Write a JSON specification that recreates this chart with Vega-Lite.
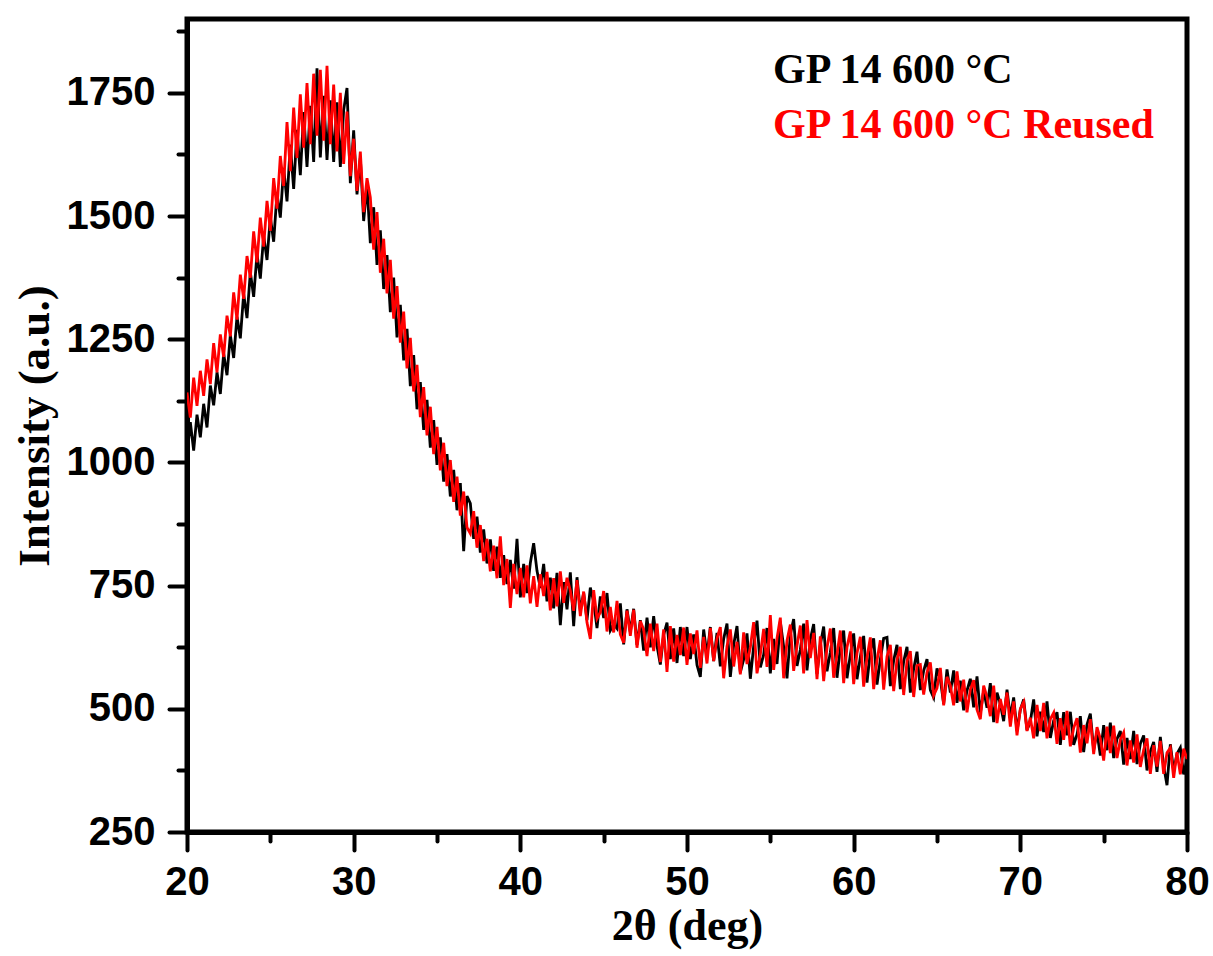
{
"$schema": "https://vega.github.io/schema/vega-lite/v6.json",
"width": 1000, "height": 813,
"autosize": {"type": "none"},
"padding": {"left": 187, "top": 19, "right": 26, "bottom": 124},
"background": "white",
"config": {"view": {"stroke": "black", "strokeWidth": 5}, "axis": {"grid": false}},
"data": {"values": [
{"x":20,"a":1014,"b":1142},{"x":20.2,"a":1082,"b":1091},{"x":20.4,"a":1024,"b":1172},{"x":20.6,"a":1097,"b":1115},{"x":20.8,"a":1051,"b":1186},
{"x":21,"a":1119,"b":1135},{"x":21.2,"a":1071,"b":1209},{"x":21.4,"a":1156,"b":1159},{"x":21.6,"a":1116,"b":1242},{"x":21.8,"a":1183,"b":1183},
{"x":22,"a":1139,"b":1260},{"x":22.2,"a":1221,"b":1214},{"x":22.4,"a":1177,"b":1298},{"x":22.6,"a":1259,"b":1256},{"x":22.8,"a":1212,"b":1345},
{"x":23,"a":1296,"b":1290},{"x":23.2,"a":1252,"b":1381},{"x":23.4,"a":1342,"b":1332},{"x":23.6,"a":1293,"b":1419},{"x":23.8,"a":1386,"b":1375},
{"x":24,"a":1336,"b":1469},{"x":24.2,"a":1423,"b":1406},{"x":24.4,"a":1373,"b":1497},{"x":24.6,"a":1460,"b":1438},{"x":24.8,"a":1411,"b":1531},
{"x":25,"a":1498,"b":1470},{"x":25.2,"a":1448,"b":1577},{"x":25.4,"a":1546,"b":1515},{"x":25.6,"a":1497,"b":1622},{"x":25.8,"a":1598,"b":1561},
{"x":26,"a":1530,"b":1691},{"x":26.2,"a":1645,"b":1591},{"x":26.4,"a":1555,"b":1720},{"x":26.6,"a":1675,"b":1618},{"x":26.8,"a":1583,"b":1747},
{"x":27,"a":1711,"b":1639},{"x":27.2,"a":1600,"b":1770},{"x":27.4,"a":1724,"b":1646},{"x":27.6,"a":1610,"b":1789},{"x":27.8,"a":1800,"b":1663},
{"x":28,"a":1619,"b":1797},{"x":28.2,"a":1744,"b":1653},{"x":28.4,"a":1614,"b":1805},{"x":28.6,"a":1735,"b":1646},{"x":28.8,"a":1610,"b":1767},
{"x":29,"a":1731,"b":1631},{"x":29.2,"a":1600,"b":1750},{"x":29.4,"a":1715,"b":1606},{"x":29.6,"a":1760,"b":1712},{"x":29.8,"a":1567,"b":1581},
{"x":30,"a":1674,"b":1657},{"x":30.2,"a":1544,"b":1551},{"x":30.4,"a":1618,"b":1631},{"x":30.6,"a":1490,"b":1508},{"x":30.8,"a":1565,"b":1577},
{"x":31,"a":1445,"b":1538},{"x":31.2,"a":1518,"b":1432},{"x":31.4,"a":1401,"b":1508},{"x":31.6,"a":1471,"b":1385},{"x":31.8,"a":1352,"b":1454},
{"x":32,"a":1421,"b":1343},{"x":32.2,"a":1305,"b":1411},{"x":32.4,"a":1375,"b":1292},{"x":32.6,"a":1254,"b":1358},{"x":32.8,"a":1320,"b":1243},
{"x":33,"a":1207,"b":1306},{"x":33.2,"a":1271,"b":1191},{"x":33.4,"a":1155,"b":1253},{"x":33.6,"a":1218,"b":1144},{"x":33.8,"a":1108,"b":1198},
{"x":34,"a":1163,"b":1092},{"x":34.2,"a":1066,"b":1153},{"x":34.4,"a":1127,"b":1055},{"x":34.6,"a":1030,"b":1113},{"x":34.8,"a":1086,"b":1017},
{"x":35,"a":995,"b":1072},{"x":35.2,"a":1051,"b":984},{"x":35.4,"a":961,"b":1040},{"x":35.6,"a":1017,"b":952},{"x":35.8,"a":931,"b":1005},
{"x":36,"a":985,"b":920},{"x":36.2,"a":903,"b":971},{"x":36.4,"a":958,"b":892},{"x":36.6,"a":820,"b":941},{"x":36.8,"a":932,"b":868},
{"x":37,"a":917,"b":856},{"x":37.2,"a":845,"b":901},{"x":37.4,"a":890,"b":827},{"x":37.6,"a":817,"b":873},{"x":37.8,"a":864,"b":800},
{"x":38,"a":795,"b":845},{"x":38.2,"a":844,"b":779},{"x":38.4,"a":780,"b":831},{"x":38.6,"a":829,"b":765},{"x":38.8,"a":766,"b":850},
{"x":39,"a":812,"b":751},{"x":39.2,"a":753,"b":804},{"x":39.4,"a":802,"b":705},{"x":39.6,"a":744,"b":794},{"x":39.8,"a":845,"b":733},
{"x":40,"a":726,"b":786},{"x":40.2,"a":794,"b":726},{"x":40.4,"a":735,"b":791},{"x":40.6,"a":796,"b":714},{"x":40.8,"a":836,"b":769},
{"x":41,"a":780,"b":707},{"x":41.2,"a":745,"b":773},{"x":41.4,"a":794,"b":729},{"x":41.6,"a":718,"b":778},{"x":41.8,"a":766,"b":700},
{"x":42,"a":704,"b":765},{"x":42.2,"a":776,"b":708},{"x":42.4,"a":670,"b":779},{"x":42.6,"a":757,"b":715},{"x":42.8,"a":702,"b":766},
{"x":43,"a":777,"b":740},{"x":43.2,"a":668,"b":699},{"x":43.4,"a":767,"b":761},{"x":43.6,"a":699,"b":688},{"x":43.8,"a":735,"b":738},
{"x":44,"a":680,"b":675},{"x":44.2,"a":746,"b":642},{"x":44.4,"a":717,"b":741},{"x":44.6,"a":664,"b":683},{"x":44.8,"a":728,"b":696},
{"x":45,"a":684,"b":739},{"x":45.2,"a":735,"b":657},{"x":45.4,"a":659,"b":707},{"x":45.6,"a":672,"b":655},{"x":45.8,"a":663,"b":719},
{"x":46,"a":714,"b":651},{"x":46.2,"a":631,"b":634},{"x":46.4,"a":702,"b":699},{"x":46.6,"a":656,"b":648},{"x":46.8,"a":703,"b":701},
{"x":47,"a":630,"b":624},{"x":47.2,"a":680,"b":678},{"x":47.4,"a":618,"b":661},{"x":47.6,"a":685,"b":607},{"x":47.8,"a":625,"b":673},
{"x":48,"a":688,"b":617},{"x":48.2,"a":628,"b":673},{"x":48.4,"a":590,"b":595},{"x":48.6,"a":650,"b":661},{"x":48.8,"a":675,"b":575},
{"x":49,"a":601,"b":668},{"x":49.2,"a":663,"b":596},{"x":49.4,"a":593,"b":650},{"x":49.6,"a":666,"b":609},{"x":49.8,"a":607,"b":665},
{"x":50,"a":666,"b":589},{"x":50.2,"a":601,"b":653},{"x":50.4,"a":651,"b":611},{"x":50.6,"a":589,"b":659},{"x":50.8,"a":565,"b":583},
{"x":51,"a":661,"b":646},{"x":51.2,"a":608,"b":592},{"x":51.4,"a":666,"b":664},{"x":51.6,"a":597,"b":597},{"x":51.8,"a":654,"b":643},
{"x":52,"a":586,"b":666},{"x":52.2,"a":642,"b":562},{"x":52.4,"a":673,"b":627},{"x":52.6,"a":565,"b":661},{"x":52.8,"a":630,"b":586},
{"x":53,"a":668,"b":636},{"x":53.2,"a":574,"b":570},{"x":53.4,"a":600,"b":655},{"x":53.6,"a":653,"b":591},{"x":53.8,"a":561,"b":625},
{"x":54,"a":627,"b":676},{"x":54.2,"a":679,"b":572},{"x":54.4,"a":584,"b":610},{"x":54.6,"a":610,"b":662},{"x":54.8,"a":664,"b":585},
{"x":55,"a":572,"b":690},{"x":55.2,"a":642,"b":579},{"x":55.4,"a":591,"b":643},{"x":55.6,"a":677,"b":685},{"x":55.8,"a":626,"b":562},
{"x":56,"a":562,"b":638},{"x":56.2,"a":651,"b":671},{"x":56.4,"a":682,"b":577},{"x":56.6,"a":587,"b":628},{"x":56.8,"a":620,"b":669},
{"x":57,"a":673,"b":572},{"x":57.2,"a":578,"b":680},{"x":57.4,"a":641,"b":603},{"x":57.6,"a":672,"b":654},{"x":57.8,"a":571,"b":560},
{"x":58,"a":630,"b":647},{"x":58.2,"a":667,"b":556},{"x":58.4,"a":576,"b":624},{"x":58.6,"a":615,"b":663},{"x":58.8,"a":664,"b":563},
{"x":59,"a":563,"b":610},{"x":59.2,"a":624,"b":659},{"x":59.4,"a":659,"b":552},{"x":59.6,"a":562,"b":625},{"x":59.8,"a":610,"b":657},
{"x":60,"a":653,"b":550},{"x":60.2,"a":560,"b":613},{"x":60.4,"a":605,"b":646},{"x":60.6,"a":648,"b":545},{"x":60.8,"a":553,"b":604},
{"x":61,"a":616,"b":645},{"x":61.2,"a":643,"b":540},{"x":61.4,"a":549,"b":598},{"x":61.6,"a":600,"b":639},{"x":61.8,"a":643,"b":539},
{"x":62,"a":645,"b":606},{"x":62.2,"a":546,"b":630},{"x":62.4,"a":598,"b":536},{"x":62.6,"a":630,"b":600},{"x":62.8,"a":540,"b":626},
{"x":63,"a":596,"b":528},{"x":63.2,"a":626,"b":597},{"x":63.4,"a":533,"b":617},{"x":63.6,"a":581,"b":524},{"x":63.8,"a":616,"b":588},
{"x":64,"a":538,"b":590},{"x":64.2,"a":577,"b":529},{"x":64.4,"a":601,"b":574},{"x":64.6,"a":538,"b":594},{"x":64.8,"a":523,"b":527},
{"x":65,"a":582,"b":542},{"x":65.2,"a":560,"b":583},{"x":65.4,"a":510,"b":507},{"x":65.6,"a":580,"b":565},{"x":65.8,"a":533,"b":547},
{"x":66,"a":578,"b":507},{"x":66.2,"a":512,"b":576},{"x":66.4,"a":557,"b":515},{"x":66.6,"a":497,"b":559},{"x":66.8,"a":537,"b":493},
{"x":67,"a":561,"b":539},{"x":67.2,"a":503,"b":558},{"x":67.4,"a":566,"b":498},{"x":67.6,"a":491,"b":479},{"x":67.8,"a":537,"b":547},
{"x":68,"a":502,"b":524},{"x":68.2,"a":552,"b":485},{"x":68.4,"a":473,"b":547},{"x":68.6,"a":533,"b":471},{"x":68.8,"a":510,"b":520},
{"x":69,"a":475,"b":488},{"x":69.2,"a":539,"b":533},{"x":69.4,"a":483,"b":464},{"x":69.6,"a":523,"b":515},{"x":69.8,"a":455,"b":446},
{"x":70,"a":498,"b":500},{"x":70.2,"a":519,"b":514},{"x":70.4,"a":457,"b":455},{"x":70.6,"a":474,"b":482},{"x":70.8,"a":519,"b":440},
{"x":71,"a":444,"b":508},{"x":71.2,"a":494,"b":455},{"x":71.4,"a":453,"b":512},{"x":71.6,"a":515,"b":440},{"x":71.8,"a":441,"b":479},
{"x":72,"a":476,"b":492},{"x":72.2,"a":493,"b":429},{"x":72.4,"a":427,"b":481},{"x":72.6,"a":493,"b":437},{"x":72.8,"a":446,"b":496},
{"x":73,"a":494,"b":424},{"x":73.2,"a":427,"b":461},{"x":73.4,"a":448,"b":481},{"x":73.6,"a":485,"b":411},{"x":73.8,"a":412,"b":467},
{"x":74,"a":468,"b":430},{"x":74.2,"a":490,"b":479},{"x":74.4,"a":417,"b":408},{"x":74.6,"a":453,"b":463},{"x":74.8,"a":405,"b":439},
{"x":75,"a":467,"b":395},{"x":75.2,"a":416,"b":464},{"x":75.4,"a":472,"b":410},{"x":75.6,"a":400,"b":466},{"x":75.8,"a":439,"b":400},
{"x":76,"a":455,"b":437},{"x":76.2,"a":387,"b":452},{"x":76.4,"a":441,"b":385},{"x":76.6,"a":398,"b":436},{"x":76.8,"a":455,"b":391},
{"x":77,"a":388,"b":448},{"x":77.2,"a":429,"b":382},{"x":77.4,"a":446,"b":417},{"x":77.6,"a":375,"b":440},{"x":77.8,"a":413,"b":368},
{"x":78,"a":433,"b":426},{"x":78.2,"a":372,"b":383},{"x":78.4,"a":443,"b":435},{"x":78.6,"a":384,"b":368},{"x":78.8,"a":345,"b":411},
{"x":79,"a":428,"b":421},{"x":79.2,"a":374,"b":360},{"x":79.4,"a":409,"b":412},{"x":79.6,"a":421,"b":367},{"x":79.8,"a":367,"b":419},
{"x":80,"a":398,"b":398}
]},
"transform": [{"fold": ["a", "b"], "as": ["series", "intensity"]}],
"mark": {"type": "line", "strokeWidth": 2.8, "clip": true},
"encoding": {
  "x": {"field": "x", "type": "quantitative",
    "scale": {"domain": [20, 80], "nice": false, "zero": false},
    "axis": {"title": "2θ (deg)", "values": [20,25,30,35,40,45,50,55,60,65,70,75,80],
      "labelExpr": "datum.value % 10 === 0 ? datum.label : ''",
      "tickSize": {"condition": {"test": "datum.value % 10 === 0", "value": 18}, "value": 9},
      "tickWidth": 4, "tickColor": "black", "tickCap": "round",
      "domainColor": "black", "domainWidth": 5,
      "labelFont": "Liberation Sans", "labelFontWeight": "bold", "labelFontSize": 40, "labelColor": "black",
      "labelPadding": 12, "labelFlush": false, "labelOverlap": false,
      "titleFont": "Liberation Serif", "titleFontWeight": "bold", "titleFontSize": 44, "titleColor": "black", "titlePadding": 2}},
  "y": {"field": "intensity", "type": "quantitative",
    "scale": {"domain": [250, 1900], "nice": false, "zero": false},
    "axis": {"title": "Intensity (a.u.)", "values": [250,375,500,625,750,875,1000,1125,1250,1375,1500,1625,1750,1875],
      "format": "d",
      "labelExpr": "datum.value % 250 === 0 ? datum.label : ''",
      "tickSize": {"condition": {"test": "datum.value % 250 === 0", "value": 18}, "value": 9},
      "tickWidth": 4, "tickColor": "black", "tickCap": "round",
      "domainColor": "black", "domainWidth": 5,
      "labelFont": "Liberation Sans", "labelFontWeight": "bold", "labelFontSize": 40, "labelColor": "black",
      "labelPadding": 14, "labelFlush": false, "labelOverlap": false,
      "titleFont": "Liberation Serif", "titleFontWeight": "bold", "titleFontSize": 45, "titleColor": "black", "titlePadding": 9}},
  "color": {"field": "series", "type": "nominal",
    "scale": {"domain": ["a", "b"], "range": ["#000000", "#ff0000"]},
    "legend": {"orient": "top-right", "offset": 30, "padding": 0, "title": null,
      "labelExpr": "datum.value === 'a' ? 'GP 14 600 °C' : 'GP 14 600 °C Reused'",
      "labelFont": "Liberation Serif", "labelFontWeight": "bold", "labelFontSize": 42, "labelLimit": 0,
      "symbolSize": 0, "symbolOpacity": 0, "symbolStrokeWidth": 0, "labelOffset": 0, "rowPadding": 13,
      "encode": {"labels": {"update": {"fill": {"signal": "datum.value === 'a' ? '#000000' : '#ff0000'"}}}}}}
}
}
